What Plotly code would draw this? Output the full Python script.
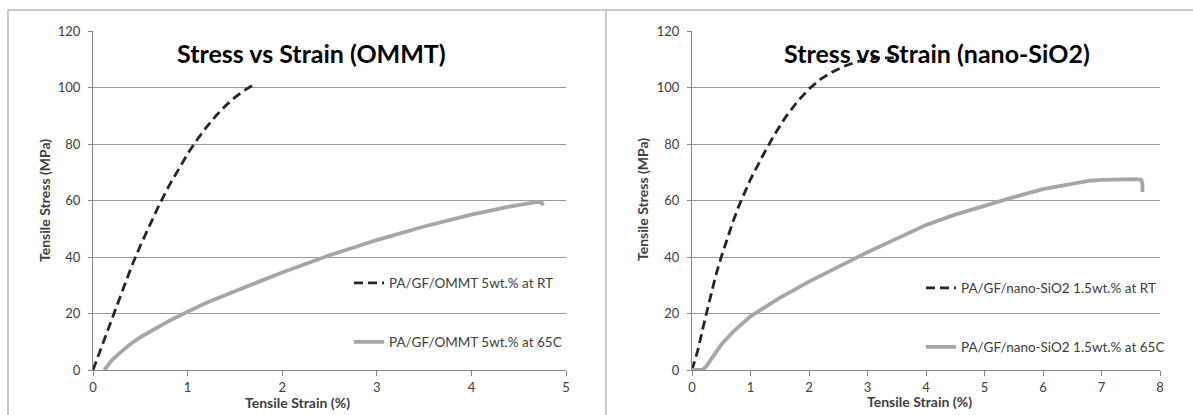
import plotly.graph_objects as go

W, H = 1193, 415

# ---- data ----
ommt_rt_strain = [0, 0.1, 0.2, 0.3, 0.4, 0.5, 0.6, 0.7, 0.8, 0.9, 1.0, 1.1, 1.2, 1.3, 1.4, 1.5, 1.6, 1.7]
ommt_rt_stress = [0, 9, 18.5, 27.5, 36, 44, 51.5, 58.5, 65, 71, 76.5, 81.5, 86, 90, 93.5, 96.5, 99, 101]

ommt_65_strain = [0.12, 0.2, 0.3, 0.4, 0.5, 0.6, 0.8, 1.0, 1.2, 1.5, 2.0, 2.5, 3.0, 3.5, 4.0, 4.4, 4.7, 4.74, 4.76]
ommt_65_stress = [0, 3.5, 6.5, 9.3, 11.6, 13.6, 17.3, 20.6, 23.8, 27.9, 34.5, 40.6, 46, 50.8, 55, 57.8, 59.5, 59.3, 58.3]

sio2_rt_strain = [0, 0.1, 0.2, 0.3, 0.4, 0.5, 0.6, 0.7, 0.8, 0.9, 1.0, 1.2, 1.4, 1.6, 1.8, 2.0, 2.2, 2.4, 2.6, 2.8, 3.0, 3.2, 3.45]
sio2_rt_stress = [0, 7, 16, 25, 33, 40, 46.5, 52.5, 58, 63, 67.5, 75.5, 83, 89.5, 95, 99.5, 103, 105.5, 107.5, 109, 110, 110.5, 110.5]

sio2_65_strain = [0, 0.18, 0.25, 0.35, 0.5, 0.7, 1.0, 1.5, 2.0, 2.5, 3.0, 3.5, 4.0, 4.5, 5.0, 5.5, 6.0, 6.5, 6.8, 7.0, 7.3, 7.6, 7.68, 7.7, 7.7]
sio2_65_stress = [0, 0, 1.5, 4.5, 9, 13.5, 19, 25.5, 31.3, 36.5, 41.7, 46.5, 51.3, 55, 58.2, 61.2, 64, 66, 67, 67.3, 67.5, 67.6, 67.3, 66, 63]

titles = ["Stress vs Strain (OMMT)", "Stress vs Strain (nano-SiO2)"]
names = ["PA/GF/OMMT 5wt.% at RT", "PA/GF/OMMT 5wt.% at 65C",
         "PA/GF/nano-SiO2 1.5wt.% at RT", "PA/GF/nano-SiO2 1.5wt.% at 65C"]
y_ticks = [0, 20, 40, 60, 80, 100, 120]
x_ticks_left = [0, 1, 2, 3, 4, 5]
x_ticks_right = [0, 1, 2, 3, 4, 5, 6, 7, 8]

FONT = "Lato"
DARK = "#262626"
GRAY = "#a6a6a6"
TXT = "#404040"

def px(x):
    return x / W

def py(y):
    return 1 - y / H

fig = go.Figure()

dash_line = dict(color=DARK, width=2.8, dash="9px,5px")
gray_line = dict(color=GRAY, width=3.8)

fig.add_trace(go.Scatter(x=ommt_rt_strain, y=ommt_rt_stress, mode="lines", name=names[0],
                         line=dash_line, xaxis="x", yaxis="y", legend="legend"))
fig.add_trace(go.Scatter(x=ommt_65_strain, y=ommt_65_stress, mode="lines", name=names[1],
                         line=gray_line, xaxis="x", yaxis="y", legend="legend2"))
fig.add_trace(go.Scatter(x=sio2_rt_strain, y=sio2_rt_stress, mode="lines", name=names[2],
                         line=dash_line, xaxis="x2", yaxis="y2", legend="legend3"))
fig.add_trace(go.Scatter(x=sio2_65_strain, y=sio2_65_stress, mode="lines", name=names[3],
                         line=gray_line, xaxis="x2", yaxis="y2", legend="legend4"))

ydom = [py(370), py(31)]
axis_common = dict(showline=True, linecolor="#868686", linewidth=1, ticks="outside",
                   tickcolor="#868686", tickfont=dict(family=FONT, size=13, color=TXT),
                   zeroline=False, fixedrange=True)

fig.update_layout(
    width=W, height=H, margin=dict(l=0, r=0, t=0, b=0, autoexpand=False),
    paper_bgcolor="white", plot_bgcolor="white",
    showlegend=True,
    xaxis=dict(domain=[px(93), px(566)], range=[0, 5], tickvals=x_ticks_left, showgrid=False,
               ticklen=5, anchor="y", **axis_common),
    yaxis=dict(domain=ydom, range=[0, 120], tickvals=y_ticks, showgrid=True, gridcolor="#9a9a9a",
               gridwidth=1, ticklen=4, ticklabelstandoff=5, anchor="x", **axis_common),
    xaxis2=dict(domain=[px(692), px(1160)], range=[0, 8], tickvals=x_ticks_right, showgrid=False,
                ticklen=5, anchor="y2", **axis_common),
    yaxis2=dict(domain=ydom, range=[0, 120], tickvals=y_ticks, showgrid=True, gridcolor="#9a9a9a",
                gridwidth=1, ticklen=4, ticklabelstandoff=5, anchor="x2", **axis_common),
)

leg_common = dict(xanchor="left", yanchor="middle", bgcolor="rgba(0,0,0,0)",
                  font=dict(family=FONT, size=13.5, color=TXT), itemwidth=30)
fig.update_layout(
    legend=dict(x=px(349), y=py(283), **leg_common),
    legend2=dict(x=px(349), y=py(342), **leg_common),
    legend3=dict(x=px(921), y=py(288), **leg_common),
    legend4=dict(x=px(921), y=py(347), **leg_common),
)

def ann(text, x, y, size, color=TXT, angle=0):
    return dict(text=text, x=px(x), y=py(y), xref="paper", yref="paper",
                xanchor="center", yanchor="middle", textangle=angle,
                showarrow=False, font=dict(family=FONT, size=size, color=color))

annotations = [
    ann("<b>%s</b>" % titles[0], 311, 53, 25, "black"),
    ann("<b>%s</b>" % titles[1], 937, 53, 25, "black"),
    ann("<b>Tensile Stress (MPa)</b>", 44, 200, 14, TXT, -90),
    ann("<b>Tensile Stress (MPa)</b>", 642, 200, 14, TXT, -90),
    ann("<b>Tensile Strain (%)</b>", 297, 402, 14),
    ann("<b>Tensile Strain (%)</b>", 919, 401, 14),
]
fig.update_layout(annotations=annotations)

border = dict(color="#b8b8b8", width=1.5)
fig.update_layout(shapes=[
    dict(type="line", xref="paper", yref="paper", x0=px(8), x1=1, y0=py(10), y1=py(10), line=border),
    dict(type="line", xref="paper", yref="paper", x0=px(8), x1=px(8), y0=py(10), y1=0, line=border),
    dict(type="line", xref="paper", yref="paper", x0=px(606), x1=px(606), y0=py(10), y1=0, line=border),
])

fig.write_html("out.html", config={"displayModeBar": False},
               post_script="document.body.style.margin='0';document.body.style.overflow='hidden';")
